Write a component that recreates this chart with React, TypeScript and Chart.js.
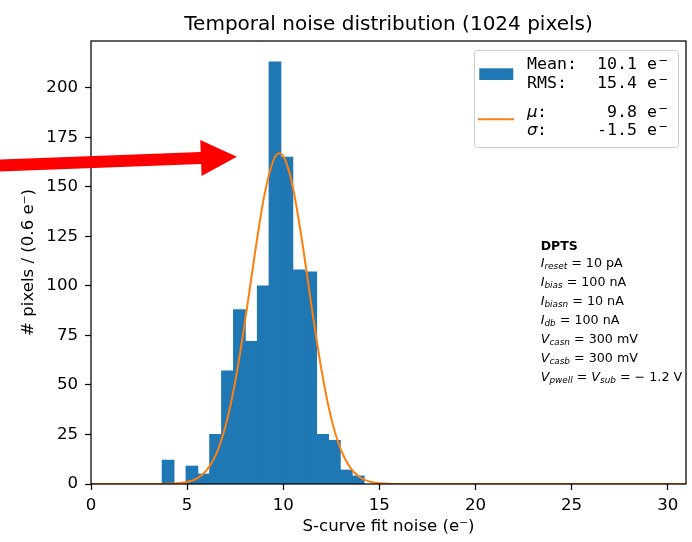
import { useEffect, useRef } from 'react';
import { Chart, registerables } from 'chart.js';

Chart.register(...registerables);

const FONT = '"DejaVu Sans", sans-serif';
const MONO = '"DejaVu Sans Mono", monospace';

// Histogram (bin width ~0.6 e-), bin centres and counts
const binCenters = [4.01, 4.63, 5.25, 5.86, 6.48, 7.10, 7.72, 8.34, 8.96, 9.57, 10.19, 10.81, 11.43, 12.05, 12.66, 13.28, 13.90];
const binCounts = [12, 0, 9, 5, 25, 57, 88, 72, 100, 213, 165, 108, 107, 25, 22, 7, 4];

// Gaussian fit curve
const fitX = [0, 3, 4, 5, 5.5, 6, 6.5, 7, 7.5, 8, 8.5, 9, 9.5, 9.8, 10.1, 10.5, 11, 11.5, 12, 12.5, 13, 13.5, 14, 14.5, 15, 16, 17, 31];
const fitY = [0, 0, 0.1, 1.0, 2.7, 6.7, 14.8, 29.3, 51.6, 81.3, 114.7, 144.9, 163.7, 167, 163.7, 149.8, 121.3, 87.9, 57.0, 33.0, 17.2, 8.0, 3.3, 1.2, 0.4, 0, 0, 0];

const xTicks = [0, 5, 10, 15, 20, 25, 30];
const yTicks = [0, 25, 50, 75, 100, 125, 150, 175, 200];
const xMin = 0;
const xMax = 30.95;
const yMin = 0;
const yMax = 223.65;

const titleText = 'Temporal noise distribution (1024 pixels)';
const xLabel = 'S-curve fit noise (e\u207B)';
const yLabel = '# pixels / (0.6 e\u207B)';

const legendHistLines = ['Mean:  10.1 e', 'RMS:   15.4 e'];
const legendFitLines: [string, string][] = [['\u03BC', ':      9.8 e'], ['\u03C3', ':     -1.5 e']];

const annotationTitle = 'DPTS';
const annotationLines: [string, string][][] = [
  [['I', 'i'], ['reset', 's'], [' = 10 pA', 'n']],
  [['I', 'i'], ['bias', 's'], [' = 100 nA', 'n']],
  [['I', 'i'], ['biasn', 's'], [' = 10 nA', 'n']],
  [['I', 'i'], ['db', 's'], [' = 100 nA', 'n']],
  [['V', 'i'], ['casn', 's'], [' = 300 mV', 'n']],
  [['V', 'i'], ['casb', 's'], [' = 300 mV', 'n']],
  [['V', 'i'], ['pwell', 's'], [' = ', 'n'], ['V', 'i'], ['sub', 's'], [' = \u2212 1.2 V', 'n']],
];

// red arrow annotation (data coordinates)
const arrowTail = { x: -5, y: 160.7 };
const arrowTip = { x: 7.59, y: 165.2 };

function drawRich(ctx: CanvasRenderingContext2D, x: number, y: number, segs: [string, string][], size: number) {
  let cx = x;
  for (const [t, kind] of segs) {
    let dy = 0;
    if (kind === 'i') ctx.font = `italic ${size}px ${FONT}`;
    else if (kind === 's') { ctx.font = `italic ${size * 0.7}px ${FONT}`; dy = size * 0.2; }
    else ctx.font = `${size}px ${FONT}`;
    ctx.fillText(t, cx, y + dy);
    cx += ctx.measureText(t).width;
  }
}

export default function App() {
  const ref = useRef<HTMLCanvasElement>(null);

  useEffect(() => {
    document.body.style.margin = '0';
    const canvas = ref.current!;

    const overlay = {
      id: 'overlay',
      afterDraw(chart: any) {
        const ctx: CanvasRenderingContext2D = chart.ctx;
        const ca = chart.chartArea;
        const xs = chart.scales.x;
        const ys = chart.scales.y;
        ctx.save();

        // axes frame
        ctx.strokeStyle = '#000';
        ctx.lineWidth = 1.25;
        ctx.strokeRect(ca.left, ca.top, ca.right - ca.left, ca.bottom - ca.top);

        // title
        ctx.fillStyle = '#000';
        ctx.font = `20px ${FONT}`;
        ctx.textAlign = 'center';
        ctx.textBaseline = 'alphabetic';
        ctx.fillText(titleText, (ca.left + ca.right) / 2, ca.top - 11);

        // red arrow
        const tx = xs.getPixelForValue(arrowTip.x), ty = ys.getPixelForValue(arrowTip.y);
        const sx = xs.getPixelForValue(arrowTail.x), sy = ys.getPixelForValue(arrowTail.y);
        const dx = tx - sx, dy = ty - sy, L = Math.hypot(dx, dy);
        const ux = dx / L, uy = dy / L, nx = -uy, ny = ux;
        const hw = 6, hh = 18, hl = 36;
        const bx = tx - ux * hl, by = ty - uy * hl;
        ctx.beginPath();
        ctx.moveTo(sx + nx * hw, sy + ny * hw);
        ctx.lineTo(bx + nx * hw, by + ny * hw);
        ctx.lineTo(bx + nx * hh, by + ny * hh);
        ctx.lineTo(tx, ty);
        ctx.lineTo(bx - nx * hh, by - ny * hh);
        ctx.lineTo(bx - nx * hw, by - ny * hw);
        ctx.lineTo(sx - nx * hw, sy - ny * hw);
        ctx.closePath();
        ctx.fillStyle = '#ff0000';
        ctx.fill();

        // legend
        const lx = ca.right - 212, ly = ca.top + 9, lw = 204, lh = 97;
        ctx.beginPath();
        ctx.roundRect(lx + 0.5, ly + 0.5, lw, lh, 3);
        ctx.fillStyle = 'rgba(255,255,255,0.8)';
        ctx.fill();
        ctx.strokeStyle = '#cccccc';
        ctx.lineWidth = 1;
        ctx.stroke();

        ctx.fillStyle = '#1f77b4';
        ctx.fillRect(lx + 5.3, ly + 18.3, 34, 11.7);
        ctx.strokeStyle = '#ff7f0e';
        ctx.lineWidth = 2;
        ctx.beginPath();
        ctx.moveTo(lx + 4, ly + 69.3);
        ctx.lineTo(lx + 40, ly + 69.3);
        ctx.stroke();

        ctx.fillStyle = '#000';
        ctx.textAlign = 'left';
        const tx0 = lx + 53;
        const col = 10;
        const baselines = [19, 38, 66.5, 85];
        const drawMinus = (yb: number) => {
          ctx.font = `11.6px ${FONT}`;
          ctx.fillText('\u2212', tx0 + 13 * col + 1.5, yb - 5);
        };
        legendHistLines.forEach((s, i) => {
          ctx.font = `16.6px ${MONO}`;
          ctx.fillText(s, tx0, ly + baselines[i]);
          drawMinus(ly + baselines[i]);
        });
        legendFitLines.forEach(([g, s], i) => {
          const yb = ly + baselines[i + 2];
          ctx.font = `italic 16.6px ${FONT}`;
          ctx.fillText(g, tx0, yb);
          ctx.font = `16.6px ${MONO}`;
          ctx.fillText(s, tx0 + col, yb);
          drawMinus(yb);
        });

        // parameter annotation
        const ax = ca.right - 145.3;
        ctx.font = `bold 12.5px ${FONT}`;
        ctx.fillText(annotationTitle, ax, ca.top + 209);
        annotationLines.forEach((segs, i) => {
          drawRich(ctx, ax, ca.top + 225.7 + 19 * i, segs, 12.7);
        });

        ctx.restore();
      },
    };

    const chart = new Chart(canvas, {
      type: 'bar',
      data: {
        datasets: [
          {
            type: 'line',
            label: 'fit',
            data: fitX.map((x, i) => ({ x, y: fitY[i] })),
            borderColor: '#ff7f0e',
            borderWidth: 2,
            pointRadius: 0,
            cubicInterpolationMode: 'monotone',
            fill: false,
            order: 0,
          } as any,
          {
            type: 'bar',
            label: 'hist',
            data: binCenters.map((x, i) => ({ x, y: binCounts[i] })),
            backgroundColor: '#1f77b4',
            borderWidth: 0,
            inflateAmount: 0.5,
            barPercentage: 1,
            categoryPercentage: 1,
            order: 1,
          } as any,
        ],
      },
      options: {
        responsive: false,
        animation: false,
        devicePixelRatio: 1,
        events: [],
        layout: { padding: { left: 0, right: 6, top: 41, bottom: 0 } },
        plugins: { legend: { display: false }, title: { display: false }, tooltip: { enabled: false } },
        scales: {
          x: {
            type: 'linear',
            offset: false,
            min: xMin,
            max: xMax,
            afterBuildTicks: (s: any) => { s.ticks = xTicks.map((v) => ({ value: v })); },
            afterFit: (s: any) => { s.height = 58; },
            grid: { display: true, offset: false, drawOnChartArea: false, drawTicks: true, tickLength: 6, tickColor: '#000', tickWidth: 1.25 },
            border: { display: false },
            ticks: { color: '#000', font: { family: FONT, size: 16.6 }, padding: 6, maxRotation: 0, autoSkip: false },
            title: { display: true, text: xLabel, color: '#000', font: { family: FONT, size: 16.6 }, padding: { top: 0, bottom: 5.7 } },
          },
          y: {
            type: 'linear',
            min: yMin,
            max: yMax,
            afterBuildTicks: (s: any) => { s.ticks = yTicks.map((v) => ({ value: v })); },
            afterFit: (s: any) => { s.width = 91; },
            grid: { display: true, offset: false, drawOnChartArea: false, drawTicks: true, tickLength: 6, tickColor: '#000', tickWidth: 1.25 },
            border: { display: false },
            ticks: { color: '#000', font: { family: FONT, size: 16.6 }, padding: 7, autoSkip: false },
            title: { display: true, text: yLabel, color: '#000', font: { family: FONT, size: 16.6 }, padding: { top: 18.7, bottom: 0 } },
          },
        },
      },
      plugins: [overlay],
    });

    return () => chart.destroy();
  }, []);

  return <canvas ref={ref} width={692} height={542} style={{ display: 'block', width: 692, height: 542 }} />;
}
